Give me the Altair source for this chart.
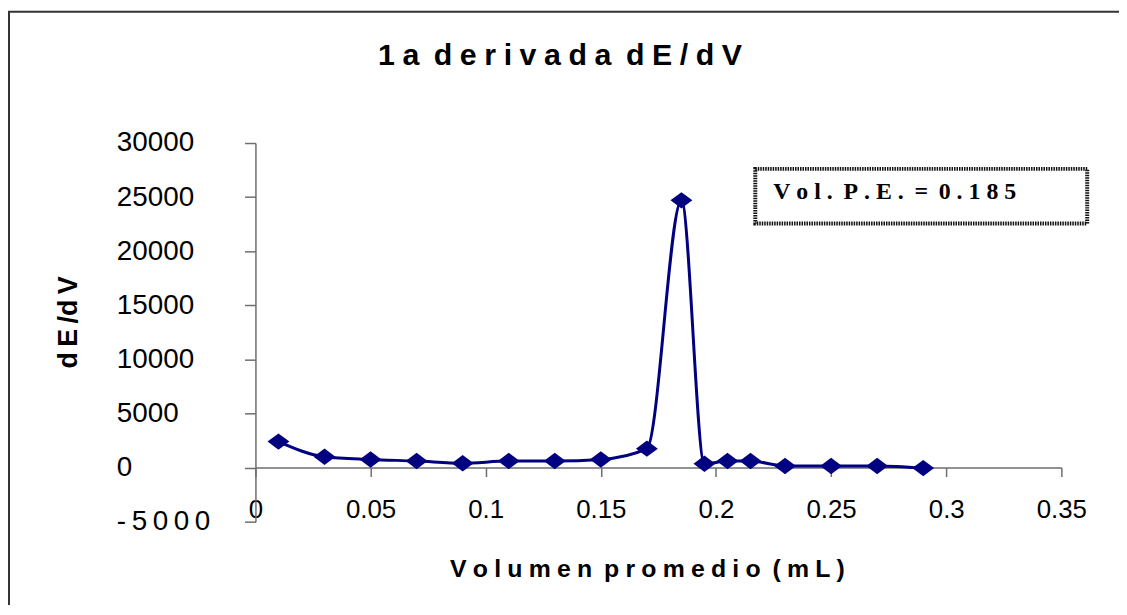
import altair as alt
import pandas as pd

# ---- data ----
volumen = [0.01, 0.03, 0.05, 0.07, 0.09, 0.11, 0.13, 0.15, 0.17, 0.185,
           0.195, 0.205, 0.215, 0.23, 0.25, 0.27, 0.29]
dEdV = [2400, 1000, 750, 600, 400, 600, 600, 750, 1750, 24700,
        350, 600, 600, 150, 150, 150, -50]
x_ticks = [0, 0.05, 0.1, 0.15, 0.2, 0.25, 0.3, 0.35]
y_ticks = [-5000, 0, 5000, 10000, 15000, 20000, 25000, 30000]
title_text = "1a derivada dE/dV"
x_title = "Volumen promedio (mL)"
y_title = "dE/dV"
note_text = "Vol. P.E. = 0.185"

Q = "\u2005"      # four-per-em space
TH = "\u2009"     # thin space
FIG = "\u2007"    # figure space (digit width)
WJ = "\u2060"     # word joiner


def spaced(s, sep=Q, wsep=" " + TH):
    """Letter-spaced text: letters of each word joined by sep, words by wsep."""
    return wsep.join(sep.join(w) for w in s.split(" "))


W, H = 811, 381
NAVY = "#000080"
AXIS = "#6e6e6e"
SANS = "Liberation Sans"
SERIF = "Liberation Serif"
DIAMOND = "M-1,0L0,-0.75L1,0L0,0.75Z"

df = pd.DataFrame({"vol": volumen, "dedv": dEdV})

x_scale = alt.Scale(domain=[0, 0.35], nice=False, zero=False)
y_scale = alt.Scale(domain=[-5000, 30000], nice=False, zero=False)

x_axis = alt.Axis(
    values=x_ticks, format="~f", grid=False, offset=-H * 5000 / 35000,
    domainColor=AXIS, domainWidth=1.5, tickColor=AXIS, tickWidth=1.5, tickSize=9,
    labelFont=SANS, labelFontSize=26, labelColor="black", labelPadding=20,
    labelFlush=False, labelOverlap=False,
    title=spaced(x_title), titleFont=SANS, titleFontSize=25, titleFontWeight="bold",
    titleColor="black", titleX=394, titleY=110, titleAlign="center",
    titleBaseline="alphabetic",
)

neg_label = FIG + WJ + TH.join("-5000")
y_axis = alt.Axis(
    values=y_ticks, format="d", grid=False,
    domainColor=AXIS, domainWidth=1.5, tickColor=AXIS, tickWidth=1.5, tickSize=11,
    labelFont=SANS, labelFontSize=28, labelColor="black", labelPadding=129,
    labelAlign="left", labelOverlap=False,
    labelExpr=(
        "datum.value == -5000 ? '" + neg_label + "' : "
        "datum.value == 0 ? '" + FIG * 5 + Q + "0' : "
        "datum.value == 5000 ? '" + FIG + Q + "5000' : datum.label"
    ),
    title="d" + TH + "E" + TH + "/d" + TH + "V", titleFont=SANS, titleFontSize=27,
    titleFontWeight="bold", titleColor="black", titleAngle=270,
    titleX=-188, titleY=180, titleAlign="center", titleBaseline="middle",
)

base = alt.Chart(df)

line = base.mark_line(interpolate="monotone", color=NAVY, strokeWidth=3).encode(
    x=alt.X("vol:Q", scale=x_scale, axis=x_axis),
    y=alt.Y("dedv:Q", scale=y_scale, axis=y_axis),
)

points = base.mark_point(shape=DIAMOND, filled=True, size=484, color=NAVY, opacity=1).encode(
    x="vol:Q", y="dedv:Q"
)

frame = alt.Chart(alt.Data(values=[{}])).mark_rect(
    fillOpacity=0, stroke="#333333", strokeWidth=2
).encode(x=alt.value(-248), x2=alt.value(1000), y=alt.value(-132), y2=alt.value(600))

note_box = alt.Chart(alt.Data(values=[{}])).mark_rect(
    fill="white", stroke="#111111", strokeWidth=4, strokeDash=[1.5, 1]
).encode(x=alt.value(503), x2=alt.value(837), y=alt.value(26), y2=alt.value(81))

note = alt.Chart(alt.Data(values=[{"t": spaced(note_text, Q, " " + TH)}])).mark_text(
    align="left", baseline="alphabetic", font=SERIF, fontSize=24, fontWeight="bold", color="black"
).encode(text="t:N", x=alt.value(521), y=alt.value(56))

title = alt.Chart(alt.Data(values=[{"t": spaced(title_text)}])).mark_text(
    align="center", baseline="alphabetic", font=SANS, fontSize=30.5, fontWeight="bold", color="black"
).encode(text="t:N", x=alt.value(306.5), y=alt.value(-78.7))

chart = alt.layer(frame, line, points, note_box, note, title).properties(
    width=W, height=H,
    autosize=alt.AutoSizeParams(type="none"),
    padding={"left": 249, "top": 134, "right": 58, "bottom": 82},
).configure_view(stroke="transparent")

chart.save("out.html", embed_options={"renderer": "svg", "actions": False})
